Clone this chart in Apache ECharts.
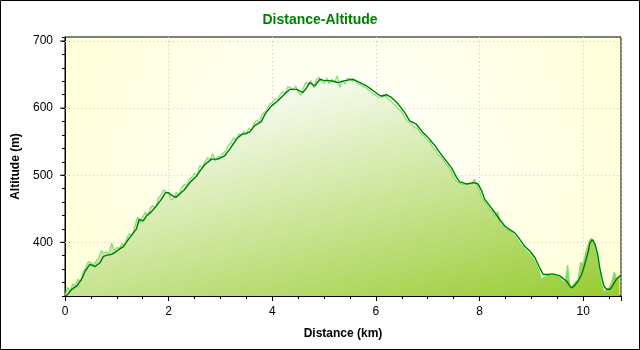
<!DOCTYPE html>
<html>
<head>
<meta charset="utf-8">
<script src="https://cdn.jsdelivr.net/npm/echarts@6/dist/echarts.min.js"></script>
<style>
  html, body { margin: 0; padding: 0; background: #fff; }
  #chart { width: 640px; height: 350px; }
</style>
</head>
<body>
<div id="chart"></div>
<script>
// Track profile: smoothed altitude (m) against distance (km)
const smoothKm = [
  0.00, 0.05, 0.13, 0.23, 0.32, 0.39, 0.48, 0.58, 0.68, 0.74,
  0.82, 0.90, 1.00, 1.13, 1.22, 1.32, 1.38, 1.43, 1.51, 1.58,
  1.66, 1.76, 1.86, 1.94, 2.00, 2.06, 2.14, 2.21, 2.30, 2.41,
  2.54, 2.62, 2.70, 2.83, 2.95, 3.08, 3.18, 3.26, 3.31, 3.41,
  3.50, 3.57, 3.66, 3.79, 3.86, 3.98, 4.11, 4.24, 4.34, 4.47,
  4.59, 4.66, 4.72, 4.82, 4.92, 5.00, 5.08, 5.18, 5.27, 5.40,
  5.56, 5.69, 5.82, 5.95, 6.05, 6.11, 6.20, 6.30, 6.43, 6.56,
  6.65, 6.78, 6.88, 7.01, 7.14, 7.23, 7.36, 7.46, 7.56, 7.62,
  7.75, 7.88, 7.97, 8.04, 8.10, 8.20, 8.30, 8.39, 8.49, 8.58,
  8.68, 8.78, 8.87, 8.97, 9.07, 9.16, 9.23, 9.32, 9.42, 9.55,
  9.68, 9.77, 9.83, 9.90, 9.97, 10.03, 10.10, 10.13, 10.18, 10.23,
  10.28, 10.32, 10.36, 10.40, 10.45, 10.52, 10.58, 10.64, 10.71, 10.73
];
const smoothAlt = [
  320, 322, 330, 335, 345, 357, 367, 364, 370, 379,
  381, 382, 387, 394, 404, 414, 420, 434, 432, 440,
  445, 454, 464, 474, 474, 470, 467, 472, 478, 489,
  499, 508, 516, 524, 524, 529, 539, 548, 554, 561,
  562, 565, 574, 580, 591, 603, 611, 621, 628, 628,
  623, 630, 638, 633, 643, 641, 641, 640, 638, 641,
  643, 638, 633, 626, 620, 618, 620, 616, 606, 593,
  581, 576, 566, 556, 544, 534, 521, 511, 496, 490,
  487, 489, 487, 477, 464, 454, 444, 434, 424, 419,
  414, 404, 394, 387, 377, 362, 352, 352, 353, 350,
  342, 332, 335, 342, 352, 367, 387, 399, 404, 397,
  382, 362, 347, 335, 330, 330, 337, 345, 350, 350
];

// Raw GPS altitude (m), one sample every 0.05 km from 0 km
const rawStepKm = 0.05;
const rawAlt = [
  321, 333, 328, 338, 336, 345, 341, 356, 362, 371,
  370, 366, 372, 376, 388, 384, 386, 383, 399, 388,
  392, 391, 398, 396, 408, 413, 410, 424, 438, 428,
  438, 445, 440, 452, 455, 451, 466, 470, 478, 476,
  472, 463, 466, 475, 470, 482, 486, 485, 494, 497,
  503, 499, 514, 512, 520, 526, 523, 532, 521, 527,
  528, 533, 536, 544, 548, 556, 551, 562, 558, 565,
  563, 570, 567, 577, 582, 579, 590, 594, 598, 606,
  608, 614, 612, 620, 624, 622, 632, 631, 627, 633,
  624, 619, 630, 639, 634, 641, 630, 642, 646, 639,
  637, 645, 636, 643, 638, 648, 631, 641, 636, 644,
  644, 640, 642, 636, 635, 632, 631, 627, 625, 621,
  619, 616, 617, 618, 617, 613, 610, 606, 602, 598,
  594, 587, 581, 578, 575, 571, 570, 564, 561, 556,
  552, 549, 541, 538, 531, 528, 523, 517, 513, 506,
  497, 492, 489, 487, 486, 486, 487, 487, 494, 486,
  476, 466, 460, 455, 449, 446, 438, 446, 428, 424,
  420, 418, 415, 412, 407, 402, 396, 392, 388, 384,
  379, 374, 366, 357, 345, 348, 350, 351, 350, 352,
  349, 348, 343, 340, 366, 328, 336, 341, 344, 370,
  368, 385, 398, 406, 400, 384, 360, 340, 326, 329,
  332, 340, 356, 344, 348
];

// Axis ranges and labelled ticks
const xMin = 0, xMax = 10.73;
const yMin = 320, yMax = 706;
const xLabelTicks = [0, 2, 4, 6, 8, 10];
const yLabelTicks = [400, 500, 600, 700];

const FONT = "'Liberation Sans', Arial, sans-serif";

const smoothData = smoothKm.map((k, i) => [k, smoothAlt[i]]);
const rawData = rawAlt.map((a, i) => [+(i * rawStepKm).toFixed(2), a]);

const chart = echarts.init(document.getElementById('chart'), null, { renderer: 'canvas' });

chart.setOption({
  animation: false,
  backgroundColor: '#ffffff',
  title: {
    text: 'Distance-Altitude',
    left: 'center',
    top: 8,
    textStyle: { color: '#008000', fontFamily: FONT, fontSize: 14, fontWeight: 'bold' }
  },
  graphic: [{
    type: 'rect',
    silent: true,
    z: 100,
    shape: { x: 0.5, y: 0.5, width: 639, height: 349 },
    style: { fill: null, stroke: '#000', lineWidth: 1 }
  }],
  grid: {
    left: 65, right: 19, top: 37, bottom: 54,
    show: true,
    borderColor: '#000',
    borderWidth: 1,
    backgroundColor: {
      type: 'radial', x: 343, y: 166, r: 320, global: true,
      colorStops: [{ offset: 0, color: '#ffffff' }, { offset: 1, color: '#ffffd6' }]
    }
  },
  xAxis: [{
    type: 'value', min: xMin, max: xMax, interval: 0.5,
    axisLine: { lineStyle: { color: '#000', width: 1 } },
    axisTick: { length: 3, lineStyle: { color: '#000' } },
    axisLabel: { show: false },
    splitLine: { show: false },
    name: 'Distance (km)', nameLocation: 'middle', nameGap: 32,
    nameTextStyle: { color: '#000', fontFamily: FONT, fontSize: 12, fontWeight: 'bold' }
  }, {
    type: 'value', min: xMin, max: xMax, interval: 2, position: 'bottom',
    axisLine: { show: false },
    axisTick: { length: 5, lineStyle: { color: '#000' } },
    axisLabel: {
      margin: 10, color: '#000', fontFamily: FONT, fontSize: 12,
      formatter: v => (xLabelTicks.indexOf(v) >= 0 ? String(v) : '')
    },
    splitLine: { show: true, lineStyle: { color: '#c8c8c8', type: [1, 3], width: 1 } }
  }],
  yAxis: [{
    type: 'value', min: yMin, max: yMax, interval: 20,
    axisLine: { show: true, lineStyle: { color: '#000', width: 1 } },
    axisTick: { show: true, length: 3, lineStyle: { color: '#000' } },
    axisLabel: {
      margin: 12, color: '#000', fontFamily: FONT, fontSize: 12,
      formatter: v => (yLabelTicks.indexOf(v) >= 0 ? String(v) : '')
    },
    splitLine: { show: false },
    name: 'Altitude (m)', nameLocation: 'middle', nameGap: 38,
    nameTextStyle: { color: '#000', fontFamily: FONT, fontSize: 12, fontWeight: 'bold' }
  }],
  series: [
    {
      name: 'raw',
      type: 'line',
      data: rawData,
      symbol: 'none',
      z: 2,
      lineStyle: { color: '#78e078', width: 1.2 },
      areaStyle: {
        origin: 'start',
        opacity: 1,
        color: {
          type: 'linear', x: 322, y: 55, x2: 401, y2: 350, global: true,
          colorStops: [{ offset: 0, color: '#ffffff' }, { offset: 1, color: '#99cc33' }]
        }
      },
      markLine: {
        silent: true,
        symbol: 'none',
        z: 1,
        label: { show: false },
        lineStyle: { color: '#c8c8c8', type: [1, 3], width: 1 },
        data: yLabelTicks.map(v => ({ yAxis: v }))
      }
    },
    {
      name: 'smooth',
      type: 'line',
      data: smoothData,
      symbol: 'none',
      z: 3,
      lineStyle: { color: '#007800', width: 1.4 }
    },
    {
      // longer ticks at labelled altitudes
      type: 'custom',
      silent: true,
      clip: false,
      z: 4,
      data: yLabelTicks.map(v => [xMin, v]),
      renderItem: (params, api) => {
        const p = api.coord([api.value(0), api.value(1)]);
        return {
          type: 'line',
          shape: { x1: p[0] - 5, y1: p[1], x2: p[0], y2: p[1] },
          style: { stroke: '#000', lineWidth: 1 }
        };
      }
    }
  ]
});
</script>
</body>
</html>
